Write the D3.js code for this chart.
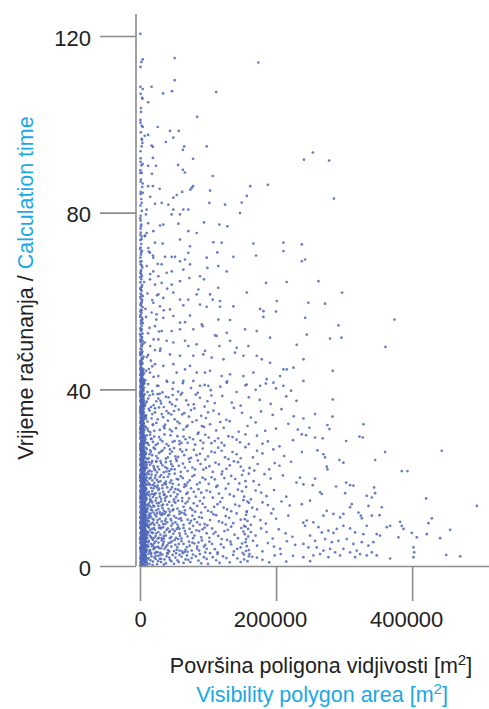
<!DOCTYPE html>
<html>
<head>
<meta charset="utf-8">
<script src="https://cdn.jsdelivr.net/npm/d3@7"></script>
<style>
    body { margin: 0; background: #fff; }
    text { font-family: "Liberation Sans", Arial, sans-serif; }
</style>
</head>
<body>
<div id="chart"></div>
<script>
// [area in thousand m2, calculation time]
var nearAxis = [
[1.2,0.4],[3.8,0.6],[6.1,0.3],[2.4,1.0],[5.2,1.1],[7.6,0.9],[0.8,1.6],[4.1,1.5],[6.8,1.7],[2.9,2.1],[5.7,2.2],[8.3,2.0],[1.5,2.7],[4.6,2.6],[7.1,2.8],[0.6,3.2],[3.3,3.3],[6.2,3.1],[2.1,3.8],[5.0,3.9],[7.9,3.7],[1.1,4.3],[4.4,4.4],[6.6,4.2],[2.7,4.9],[5.5,5.0],[8.0,4.8],[0.9,5.4],[3.6,5.5],[6.4,5.3],[1.9,6.0],[4.8,6.1],[7.3,5.9],[0.7,6.6],[3.1,6.7],[5.9,6.5],[2.3,7.1],[5.3,7.2],[7.7,7.0],[1.3,7.7],[4.2,7.8],[6.9,7.6],[2.6,8.3],[5.6,8.4],[8.2,8.2],[0.8,8.9],[3.7,9.0],[6.3,8.8],[1.8,9.4],[4.9,9.5],[7.4,9.3],[0.6,10.0],[3.2,10.1],[6.0,9.9],[2.2,10.6],[5.1,10.7],[7.8,10.5],[1.4,11.2],[4.3,11.3],[6.7,11.1],[2.8,11.8],[5.8,11.9],[8.1,11.7],[1.0,12.3],[3.5,12.4],[6.5,12.2],[2.0,12.9],[4.7,13.0],[7.2,12.8],[0.7,13.5],[3.0,13.6],[5.4,13.4],[2.5,14.1],[6.1,14.2],[7.9,14.0],[1.2,14.7],[4.0,14.8],[6.8,14.6],[2.9,15.3],[5.2,15.4],[0.8,15.9],[3.9,16.0],[7.0,15.8],[1.7,16.5],[4.5,16.6],[6.3,16.4],[0.6,17.1],[3.3,17.2],[5.7,17.0],[2.1,17.7],[4.9,17.8],[7.5,17.6],[1.1,18.3],[3.8,18.4],[6.2,18.2],[2.6,18.9],[5.5,19.0],[0.9,19.5],[4.1,19.6],[7.1,19.4],[1.6,20.1],[3.4,20.2],[6.0,20.0],[0.7,20.7],[4.6,20.8],[6.9,20.6],[2.3,21.3],[5.3,21.4],[1.2,21.9],[3.6,22.0],[6.5,21.8],[2.8,22.5],[4.8,22.6],[0.8,23.1],[3.1,23.2],[5.9,23.0],[1.9,23.7],[4.4,23.8],[7.3,23.6],[0.6,24.3],[2.7,24.4],[5.1,24.2],[1.4,24.9],[3.9,25.0],[6.4,24.8],[2.2,25.5],[4.7,25.6],[0.9,26.1],[3.3,26.2],[6.0,26.0],[1.7,26.7],[4.2,26.8],[0.7,27.3],[2.9,27.4],[5.6,27.2],[1.3,27.9],[3.7,28.0],[6.6,27.8],[2.4,28.5],[4.9,28.6],[0.8,29.1],[3.2,29.2],[5.8,29.0],[1.6,29.7],[4.3,29.8],[0.6,30.3],[2.6,30.4],[5.2,30.2],[1.9,30.9],[3.8,31.0],[6.2,30.8],[1.0,31.5],[3.0,31.6],[4.6,31.4],[2.1,32.1],[5.4,32.2],[0.7,32.7],[3.5,32.8],[1.5,33.3],[4.1,33.4],[6.1,33.2],[2.7,33.9],[0.9,34.5],[3.6,34.6],[5.0,34.4],[1.8,35.1],[4.4,35.2],[0.6,35.7],[2.9,35.8],[5.7,35.6],[1.3,36.3],[3.4,36.4],[2.2,36.9],[4.8,37.0],[0.8,37.5],[3.1,37.6],[6.0,37.4],[1.7,38.1],[4.0,38.2],[0.7,38.7],[2.5,38.8],[5.3,38.6],[1.4,39.3],[3.7,39.4],[2.0,39.9],[4.5,40.0],[0.9,40.5],[3.2,40.6],[5.9,40.4],[1.6,41.1],[4.2,41.2],[0.6,41.7],[2.8,41.8],[1.2,42.3],[3.9,42.4],[5.5,42.2],[2.3,42.9],[0.8,43.5],[3.4,43.6],[1.9,44.1],[4.7,44.2],[0.7,44.7],[2.6,44.8],
[1.3,45.4],[3.8,45.9],[0.8,46.5],[2.4,47.1],[5.2,47.4],[1.6,48.0],[3.3,48.6],[0.7,49.2],[2.9,49.7],[4.6,50.3],[1.2,50.9],[2.2,51.5],[0.9,52.1],[3.7,52.6],[1.8,53.2],[0.6,53.9],[2.7,54.4],[4.3,55.0],[1.4,55.6],[3.0,56.2],[0.8,56.8],[2.1,57.3],[1.1,58.0],[3.6,58.6],[0.7,59.2],[2.5,59.8],[1.5,60.5],[4.0,61.1],[0.9,61.7],[2.3,62.3],[1.2,63.0],[3.1,63.6],[0.6,64.2],[1.9,64.9],[2.8,65.6],[0.8,66.3],[1.6,67.0],[3.4,67.6],[1.0,68.3],[2.2,69.0],[0.7,69.8],[1.4,70.5],[2.9,71.3],[0.9,72.1],[1.8,72.9],[0.6,73.8],[2.5,74.6],[1.2,75.5],[0.8,76.4],[1.9,77.3],[1.1,78.2],
[1.0,79.3],[2.6,80.4],[0.7,81.6],[1.8,83.1],[0.9,84.2],[3.2,85.8],[1.4,87.5],[0.6,89.0],[2.1,90.7],[1.0,92.3],[0.8,93.9],[2.4,96.7],[1.2,98.2],[0.7,100.4],[1.6,102.8],[0.9,106.9]
];

var bandFill = [
[0.4,0.1],[2.6,0.7],[4.9,0.5],[7.2,0.2],[1.8,1.3],[3.5,1.2],[6.4,1.4],[8.5,1.3],[0.5,1.9],[2.2,1.8],[5.4,2.0],[7.8,1.9],[1.0,2.4],[3.9,2.3],[6.0,2.5],[8.6,2.4],[2.3,3.0],[4.7,2.9],[7.4,3.0],[1.4,3.6],[3.0,3.5],[5.8,3.6],[8.4,3.5],[0.5,4.1],[2.4,4.0],[4.9,4.1],[7.2,4.0],[1.6,4.6],[3.8,4.7],[6.0,4.6],[8.6,4.7],[0.4,5.2],[2.1,5.1],[4.6,5.2],[7.0,5.1],[1.3,5.7],[3.2,5.8],[5.5,5.7],[8.1,5.8],[0.6,6.3],[2.6,6.2],[4.5,6.3],[6.8,6.2],[1.8,6.9],[4.0,6.8],[6.3,6.9],[8.3,6.8],[0.4,7.4],[2.9,7.5],[4.8,7.4],[7.0,7.5],[1.7,8.0],[3.6,8.0],[6.1,8.1],[0.5,8.6],[2.2,8.6],[4.4,8.7],[7.3,8.6],[1.3,9.1],[3.1,9.2],[5.7,9.1],[8.4,9.2],[0.4,9.7],[2.5,9.8],[4.5,9.7],[6.9,9.8],[1.7,10.3],[3.9,10.4],[6.4,10.3],[8.6,10.4],[0.6,10.9],[2.9,10.9],[5.5,11.0],[7.4,10.9],[1.9,11.5],[4.0,11.5],[6.2,11.6],[0.4,12.0],[2.5,12.1],[4.8,12.0],[7.5,12.1],[1.6,12.6],[3.4,12.7],[5.9,12.6],[8.3,12.7],[0.5,13.2],[2.3,13.2],[4.4,13.3],[6.7,13.2],[1.5,13.8],[3.7,13.9],[5.8,13.8],[0.4,14.4],[3.2,14.4],[4.9,14.5],[7.3,14.4],[1.9,15.0],[3.8,15.0],[6.3,15.1],[0.6,15.6],[2.4,15.6],[5.6,15.7],[8.1,15.6],[1.3,16.2],[3.1,16.2],[5.3,16.3],[7.6,16.2],[0.4,16.8],[2.6,16.8],[4.6,16.9],[6.8,16.8],[1.5,17.4],[3.9,17.4],[6.1,17.5],[0.5,18.0],[2.3,18.0],[5.0,18.1],[7.2,18.0],[1.8,18.6],[4.4,18.6],[6.7,18.7],[0.6,19.2],[3.0,19.2],[5.9,19.3],[1.4,19.8],[2.5,19.8],[4.9,19.9],[7.6,19.8],[0.4,20.4],[2.2,20.4],[5.2,20.5],[1.3,21.0],[3.6,21.0],[6.2,21.1],[0.5,21.6],[2.8,21.6],[4.4,21.7],[7.2,21.6],[1.7,22.2],[3.9,22.2],[5.7,22.3],[0.4,22.8],[2.1,22.8],[4.9,22.9],[1.2,23.4],[3.5,23.4],[6.1,23.5],[0.5,24.0],[2.3,24.0],[4.7,24.1],[1.9,24.6],[3.4,24.6],[5.8,24.7],[0.4,25.2],[2.8,25.2],[4.3,25.3],[1.5,25.8],[3.6,25.8],[6.4,25.9],[0.6,26.4],[2.4,26.4],[5.1,26.5],[1.1,27.0],[3.9,27.0],[4.8,27.1],[0.4,27.6],[2.0,27.6],[5.7,27.7],[1.8,28.2],[3.2,28.2],[6.0,28.3],[0.5,28.8],[2.6,28.8],[4.4,28.9],[1.3,29.4],[3.7,29.4],[5.3,29.5],[0.4,30.0],[2.1,30.0],[4.8,30.1],[1.5,30.6],[3.3,30.6],[5.9,30.7],[0.6,31.2],[2.5,31.2],[4.2,31.3],[1.3,31.8],[3.8,31.8],[0.4,32.4],[2.8,32.4],[5.0,32.5],[1.7,33.0],[3.1,33.0],[4.6,33.1],[0.5,33.6],[2.3,33.6],[5.5,33.7],[1.2,34.2],[3.9,34.2],[0.4,34.8],[2.0,34.8],[4.5,34.9],[1.5,35.4],[3.4,35.4],[0.6,36.0],[2.6,36.0],[5.1,36.1],[1.8,36.6],[4.0,36.6],[0.4,37.2],[2.3,37.2],[4.6,37.3],[1.2,37.8],[3.5,37.8],[0.5,38.4],[2.0,38.4],[4.3,38.5],[1.6,39.0],[3.0,39.0],[0.4,39.6],[2.7,39.6],[5.0,39.7],[1.3,40.2],[3.6,40.2],[0.6,40.8],[2.2,40.8],[4.0,40.9],[1.8,41.4],[3.3,41.4],[0.4,42.0],[2.5,42.0],[4.6,42.1],[1.4,42.6],[3.0,42.6],[0.5,43.2],[2.1,43.2],[4.2,43.3],[1.6,43.8],[2.8,43.8],[0.4,44.4],[3.7,44.4],[1.2,45.0],[2.3,45.6],[0.6,46.2],[3.1,46.8],[1.1,47.7],[0.4,48.4],[2.0,49.0],[1.4,50.6],[0.5,51.2],[2.9,51.8],[1.0,53.5],[2.2,55.3],[0.5,57.6],[1.7,59.5],[0.8,62.8],[2.0,66.0]
];

var bandEdge = [
[8.8,0.8],[8.9,3.2],[8.7,5.5],[8.8,7.9],[8.9,10.1],[8.7,12.4],[8.8,14.9],[8.9,17.3],[8.7,19.6],[8.6,22.1],[8.4,24.4],[8.2,26.8],[7.9,29.2],[7.6,31.6],[7.3,34.0],[7.0,36.4],[6.7,38.9],[6.4,41.3],[6.1,43.6],
[9.4,1.9],[9.6,4.4],[9.3,6.8],[9.5,9.1],[9.2,11.4],[9.6,13.7],[9.3,16.1],[9.1,18.5],[9.4,20.9],[9.0,23.3],[8.8,25.6],
[1.9,0.1],[3.0,0.3],[0.3,0.9],[3.4,1.8],[7.0,2.3],[5.0,2.8],[0.2,3.9],[2.9,4.1],[5.9,4.5],[7.8,5.6],[0.2,6.1],[4.0,6.5],[5.9,7.8],[1.6,8.5],[7.5,9.7],[3.0,10.5],[0.2,11.0],[5.2,11.6],[3.3,12.0],[7.0,13.6],[2.8,14.5],[0.3,15.3],[5.4,16.0],[7.2,17.0],[2.0,18.6],[4.2,19.3],[0.2,20.0],[5.7,20.9],[3.5,21.6],[7.0,22.3],[1.6,22.9],[4.9,24.5],[2.6,25.9],[6.9,25.4],[0.2,26.7],[4.5,27.5],[2.5,29.9],[6.3,29.5],[0.2,31.0],[4.6,32.0],[2.6,33.0],[5.6,34.8],[0.2,35.3],[3.9,36.0],[1.9,37.4],[5.4,37.9],[0.2,39.1],[3.4,39.9],[5.9,41.8],[1.5,42.0],[3.5,43.0],[5.1,44.6],[0.3,45.8],[2.4,46.3],[4.1,47.0],[0.3,47.9],[3.0,48.2],[1.9,50.0],[3.9,51.0],[0.3,52.5],[2.6,53.6],[1.2,54.9],[3.5,55.8],[0.3,56.4],[2.5,57.9],[1.4,59.0],[3.2,60.2],[0.3,60.9],[2.0,61.4],[1.1,62.6],[2.6,63.2],[0.4,65.4],[1.3,66.7],[2.6,68.0],[0.4,68.9],[1.7,71.0],[0.4,71.7],[2.0,74.0],[0.5,75.0],[1.5,76.9],[0.4,78.7]
];

var denseCore = [
[12,41.2],[18,39.6],[25,40.8],[33,39.3],[40,41.7],[48,40.1],[56,39.5],[63,41.4],[75,40.3],[85,39.2],[95,41.0],[104,39.8],[118,40.6],[128,41.8],[142,39.4],[155,40.9],[170,39.9],[185,41.3],[200,40.2],[222,39.7],
[10,37.2],[14,38.6],[20,36.4],[27,37.9],[31,36.8],[38,38.3],[44,37.1],[52,36.2],[60,38.8],[68,37.5],[79,36.6],[88,38.1],[99,37.3],[110,36.9],[121,38.5],[135,37.0],[148,36.3],[160,38.2],[176,37.6],[192,36.7],[215,38.4],[230,37.4],
[9,34.1],[13,35.6],[17,33.4],[22,34.8],[28,35.9],[34,33.7],[39,35.1],[46,34.3],[51,33.2],[57,35.4],[65,34.6],[72,33.8],[80,35.7],[90,34.0],[97,33.5],[108,35.2],[116,34.4],[127,33.1],[138,35.8],[150,34.7],[163,33.6],[178,35.0],[195,34.2],[208,35.5],[226,33.9],
[8,31.4],[11,32.7],[15,30.3],[19,31.9],[24,32.4],[29,30.8],[35,31.6],[41,32.9],[47,30.5],[53,31.2],[58,32.3],[64,30.9],[70,31.8],[77,32.6],[86,30.2],[94,31.5],[103,32.1],[112,30.7],[123,31.3],[132,32.8],[145,30.4],[158,31.7],[170,32.5],[184,30.6],[200,31.1],[218,32.2],[232,30.9],
[7,28.3],[10,29.6],[13,27.4],[17,28.8],[21,29.3],[26,27.7],[30,28.6],[36,29.8],[42,27.2],[48,28.1],[55,29.4],[61,27.9],[67,28.7],[73,29.1],[81,27.5],[89,28.4],[96,29.7],[105,27.8],[115,28.9],[124,27.3],[136,29.2],[147,28.0],[160,27.6],[172,29.5],[188,28.2],[205,27.1],[225,28.5],
[7,25.2],[10,26.5],[13,24.4],[16,25.8],[20,26.8],[24,24.9],[28,25.6],[33,26.2],[38,24.3],[44,25.4],[50,26.7],[56,24.7],[62,25.9],[68,26.3],[75,24.5],[83,25.1],[92,26.6],[100,24.8],[110,25.7],[120,26.1],[130,24.2],[142,25.3],[155,26.9],[166,24.6],[180,25.5],[196,26.4],[212,24.9],[238,25.8],
[6,22.4],[9,23.6],[12,21.3],[15,22.9],[18,23.8],[22,21.7],[26,22.5],[31,23.3],[35,21.2],[40,22.1],[45,23.7],[51,21.9],[57,22.7],[63,23.2],[70,21.5],[77,22.3],[85,23.9],[93,21.8],[102,22.6],[111,23.4],[121,21.4],[132,22.8],[144,23.5],[152,21.6],[161,22.2],[173,23.1],[190,21.9],[205,22.7],[222,23.6],
[6,19.3],[8,20.5],[11,18.4],[14,19.8],[17,20.7],[21,18.8],[25,19.5],[29,20.2],[33,18.3],[38,19.1],[43,20.8],[48,18.6],[54,19.7],[60,20.3],[66,18.5],[73,19.4],[80,20.6],[88,18.9],[96,19.6],[105,20.1],[114,18.2],[124,19.9],[134,20.4],[146,18.7],[155,19.2],[160,20.9],[175,18.4],[192,19.8],[210,20.5],[230,18.9],
[6,16.2],[8,17.4],[10,15.3],[13,16.8],[16,17.7],[19,15.6],[23,16.5],[27,17.2],[31,15.2],[35,16.1],[40,17.8],[45,15.9],[50,16.7],[56,17.3],[62,15.4],[68,16.3],[75,17.6],[82,15.7],[90,16.6],[98,17.1],[107,15.5],[116,16.4],[126,17.5],[138,15.8],[150,16.9],[156,17.9],[163,15.1],[178,16.6],[197,17.2],[215,15.7],
[5,13.3],[7,14.5],[9,12.4],[12,13.8],[15,14.7],[18,12.6],[21,13.5],[25,14.2],[29,12.2],[33,13.1],[37,14.8],[42,12.9],[47,13.7],[52,14.3],[58,12.4],[64,13.4],[70,14.6],[77,12.7],[84,13.6],[92,14.1],[100,12.5],[109,13.4],[118,14.5],[128,12.8],[140,13.9],[152,14.9],[157,12.3],[165,13.2],[180,14.4],[196,12.9],[220,13.7],
[5,10.2],[7,11.4],[9,9.3],[11,10.8],[14,11.7],[17,9.6],[20,10.5],[24,11.2],[28,9.2],[32,10.1],[36,11.8],[40,9.9],[45,10.7],[50,11.3],[55,9.4],[61,10.3],[67,11.6],[73,9.7],[80,10.6],[87,11.1],[95,9.5],[103,10.4],[112,11.5],[121,9.8],[131,10.9],[142,11.9],[153,9.1],[158,10.2],[168,11.2],[185,9.6],[200,10.7],[218,11.4],[240,9.8],
[5,7.3],[7,8.5],[9,6.4],[11,7.8],[13,8.7],[16,6.6],[19,7.5],[22,8.2],[26,6.2],[30,7.1],[34,8.8],[38,6.9],[43,7.7],[48,8.3],[53,6.4],[58,7.4],[64,8.6],[70,6.7],[76,7.6],[83,8.1],[90,6.5],[98,7.4],[106,8.5],[115,6.8],[124,7.9],[134,8.9],[144,6.3],[154,7.2],[159,8.4],[170,6.9],[186,7.7],[204,8.3],[224,6.6],
[5,4.2],[7,5.4],[9,3.3],[11,4.8],[13,5.7],[15,3.6],[18,4.5],[21,5.2],[24,3.2],[28,4.1],[32,5.8],[36,3.9],[40,4.7],[45,5.3],[50,3.4],[55,4.3],[61,5.6],[67,3.7],[73,4.6],[80,5.1],[87,3.5],[94,4.4],[102,5.5],[110,3.8],[119,4.9],[128,5.9],[138,3.3],[148,4.2],[155,5.4],[160,3.6],[172,4.6],[188,5.2],[206,3.9],[228,4.8],
[6,1.2],[8,2.4],[10,0.8],[13,1.8],[16,2.7],[19,1.0],[23,1.6],[27,2.3],[31,0.9],[36,1.5],[41,2.8],[46,1.1],[52,1.9],[58,2.5],[64,0.7],[71,1.4],[78,2.6],[86,1.2],[94,2.0],[103,2.9],[112,1.3],[122,2.2],[132,0.8],[143,1.7],[153,2.6],[158,1.1],[165,2.1],[180,1.4],[198,2.4],[215,1.0],
[4,2.1],[6,3.8],[8,5.6],[10,7.2],[12,9.1],[14,10.9],[16,12.7],[18,14.4],[20,16.3],[22,18.1],[5,19.6],[7,17.5],[9,15.2],[11,13.1],[13,11.3],[15,9.4],[17,7.6],[19,5.9],[21,4.1],[23,2.3],[26,3.1],[28,6.4],[30,8.7],[32,11.5],[34,13.9],[36,16.2],[38,18.5],[40,2.9],[42,5.2],[44,7.9],[46,10.3],[48,12.6],[50,15.1],[52,17.4],[54,3.7],[56,6.1],[58,8.4],[60,10.8],[25,9.8],[27,12.9],[29,15.7],[31,1.6],[33,4.6],[35,6.8],[37,9.5],[39,21.4],[24,23.6],[14,25.3],[8,22.7],[10,27.9],[12,30.6],[6,26.1],[9,33.4],[16,28.8],[19,32.1],[7,36.2],[11,39.4],[13,44.6],[8,42.1],[10,47.3],[15,49.8],[12,52.7],[9,56.4],[18,45.2],[22,35.7],[26,38.9],[20,42.8],
[150,5.1],[152,7.8],[154,10.6],[156,3.4],[157,12.3],[159,6.7],[160,2.2],[155,8.9],[158,14.6],[153,1.5],[46,21.9],[66,3.2],[72,5.5],[78,9.1],[84,3.9],[90,12.1],[62,14.7],[68,18.2],[96,4.8],[108,7.3],[114,2.7],[126,9.4],[134,4.9],[44,26.4],[52,24.8],[58,28.3],[36,31.2],[42,34.6],[30,37.4],[48,38.7],
[6,41.5],[9,44.2],[12,47.8],[7,50.6],[14,53.9],[8,58.2],[11,61.7],[6,64.3],[10,67.9],[13,71.2],[7,74.8],[16,46.5],[20,51.3],[24,55.8],[18,60.2],[22,48.9],[28,53.1],[17,57.4],[25,61.3],[15,66.1],[19,70.3],[12,77.6],[30,49.2],[35,57.9],[40,62.8],[26,68.4]
];

var lowerCluster = [
[3.5,0.6],[5,2.0],[11,1.5],[14,0.5],[17,2.2],[21,1.9],[25,0.4],[29,1.6],[33,2.6],[38,0.6],[43,1.9],[48,2.5],[50,0.5],[55,1.3],[61,2.1],[67,1.5],[74,0.9],[82,2.2],[90,0.6],[98,1.6],[107,2.0],[117,0.7],[127,1.8],[137,2.5],[148,0.9],[161,2.7],[172,1.9],[190,0.8],[207,2.7],[250,1.1],[225,2.3],
[3.5,3.9],[6,5.1],[8,3.1],[10,4.4],[12,5.4],[14,3.3],[16,5.0],[20,3.8],[23,5.6],[26,4.4],[30,3.0],[34,5.0],[38,4.3],[43,3.3],[47,5.6],[52,4.8],[58,3.5],[64,5.0],[70,3.2],[77,5.3],[84,4.4],[91,5.8],[98,3.9],[106,5.0],[114,3.1],[123,4.2],[133,5.5],[143,3.9],[151,3.0],[157,4.5],[166,5.7],[180,3.3],[197,4.4],[216,5.6],
[3.5,7.0],[6,8.1],[8,6.1],[10,7.5],[12,8.9],[14,6.9],[18,8.4],[21,6.4],[24,7.4],[28,8.6],[32,6.3],[36,7.6],[41,8.5],[46,6.6],[51,7.9],[56,8.8],[61,6.2],[67,7.3],[73,8.4],[80,6.9],[87,7.9],[95,8.7],[102,6.4],[111,7.7],[120,6.1],[129,8.2],[139,7.1],[149,8.6],[156,6.1],[163,7.7],[178,8.5],[195,6.2],[214,7.4],
[3.5,10.6],[6,9.6],[8,11.1],[10,9.2],[12,10.3],[16,11.2],[19,9.8],[22,11.6],[26,10.4],[30,11.8],[34,9.5],[38,10.7],[43,11.6],[48,9.6],[53,10.9],[58,11.8],[64,9.3],[70,10.5],[77,11.4],[84,9.9],[91,10.9],[99,9.2],[108,11.7],[116,10.1],[126,11.3],[137,9.7],[148,10.5],[156,11.6],[163,9.3],[177,10.4],[193,11.9],
[3.5,12.7],[6,14.0],[8,13.0],[11,12.2],[13,14.2],[17,13.3],[20,12.1],[23,14.8],[27,13.6],[31,14.6],[35,12.5],[40,13.9],[44,12.3],[50,14.6],[55,13.0],[61,12.1],[67,14.2],[74,13.1],[81,12.3],[88,14.7],[96,13.3],[105,12.2],[114,14.0],[123,13.2],[134,12.4],[146,13.6],[160,14.3],[172,12.8],[188,13.8],[208,14.6],
[3.5,15.6],[5,17.2],[7,15.9],[9,17.6],[12,16.2],[15,15.2],[18,17.0],[21,16.1],[25,17.8],[29,16.4],[33,17.6],[37,15.4],[42,16.8],[47,17.8],[53,15.6],[59,16.9],[65,17.9],[72,15.3],[79,16.8],[86,17.4],[94,15.5],[103,16.8],[112,17.9],[121,15.4],[132,16.2],[144,17.3],[153,15.7],[170,17.1],[186,15.8],
[3.5,18.6],[5,20.2],[7,18.9],[10,20.1],[13,18.7],[16,20.0],[19,18.3],[23,20.5],[27,19.0],[31,20.6],[36,18.7],[41,20.2],[46,19.4],[51,20.9],[57,18.4],[63,19.9],[70,18.9],[77,20.3],[84,18.5],[92,20.0],[101,18.6],[110,19.6],[120,20.8],[130,18.6],[140,19.7],[150,20.6],[167,19.2],[183,20.8],
[3.5,21.6],[5,23.2],[7,22.0],[10,22.9],[13,23.5],[17,21.4],[20,22.6],[24,23.7],[28,21.9],[33,22.8],[38,23.5],[43,21.5],[48,22.6],[54,23.8],[60,21.3],[66,22.3],[73,23.6],[81,21.9],[89,23.1],[97,22.2],[107,21.3],[116,23.0],[127,22.0],[138,23.7],[148,22.5],[168,21.6],[198,23.3],
[3.5,24.7],[5,26.3],[8,25.3],[11,24.2],[15,26.2],[18,25.1],[22,26.5],[26,24.4],[31,25.9],[36,26.7],[41,24.6],[47,25.9],[53,24.2],[59,26.4],[65,25.1],[72,24.3],[79,26.3],[88,25.4],[96,24.1],[105,25.9],[115,26.8],[125,24.6],[136,25.8],[148,24.4],[172,26.1],
[3.5,27.7],[5,29.3],[8,28.7],[11,27.8],[15,29.7],[19,28.1],[23,27.4],[28,29.2],[33,28.2],[39,27.6],[45,29.6],[51,28.3],[58,27.6],[64,29.3],[70,27.9],[78,28.7],[85,29.9],[93,27.9],[101,29.1],[110,28.3],[120,27.9],[130,29.4],[142,28.6],[155,29.8],[180,27.7],
[3.5,30.9],[5,32.3],[8,33.8],[11,31.1],[14,35.2],[18,34.4],[21,30.6],[26,33.2],[32,34.4],[37,32.0],[44,30.9],[50,35.1],[55,32.7],[62,34.3],[68,31.5],[75,35.3],[83,33.0],[91,31.7],[100,34.8],[118,32.6],[3.5,36.6],[5,38.6],[8,36.8],[12,37.9],[16,36.0],[19,38.9],[24,37.3],[29,39.0],[35,36.0],[42,38.2],[47,36.6],[54,37.7],[62,39.2],[71,36.5],[82,38.8],[95,36.1],[105,38.6]
];

var coreFill = [
[10.5,0.3],[12.5,2.8],[15.5,1.3],[18.5,0.2],[22,2.9],[26.5,1.1],[30,2.5],[35,0.3],[39,2.2],[44,1.4],[53,2.9],[57,0.9],[63,2.9],[69,2.4],[76,1.8],[88,2.7],[100,0.5],
[10.5,3.7],[12.5,4.4],[16.5,3.0],[19,4.8],[22.5,4.2],[27,5.3],[31,4.0],[35,5.5],[41,3.6],[46,4.4],[51,5.9],[57,5.0],[62,3.3],[69,4.3],[76,3.5],[86,5.3],[96,3.1],
[10.5,6.3],[12.5,7.6],[15,8.2],[17.5,6.3],[20.5,8.6],[23,6.8],[27,7.7],[31,8.5],[35,6.2],[39,8.2],[44,6.3],[49,7.3],[54,8.4],[59,6.8],[66,7.9],[78,6.3],[92,8.3],
[10.5,9.6],[13,10.1],[15.5,11.9],[18.5,10.7],[21,9.3],[25,11.9],[29,10.7],[33,11.9],[37,10.2],[41,11.4],[46,9.1],[52,9.9],[57,10.7],[65,11.9],[75,10.2],[88,9.4],
[10.5,12.8],[14,13.6],[16.5,14.8],[19.5,13.7],[24,12.6],[28,14.3],[32,13.7],[38,12.2],[43,14.5],[49,12.8],[56,14.8],[66,12.6],[79,14.2],
[10.5,16.6],[14,15.9],[17,16.3],[20,17.6],[24,15.4],[28,17.5],[34,16.8],[39,15.7],[45,17.3],[55,16.2],[70,16.6],
[10.5,19.2],[12.5,20.8],[15,18.4],[18,19.4],[22,19.9],[26,18.2],[30,19.2],[35,20.1],[44,18.9],[56,19.6],
[10.5,22.3],[14,21.6],[17,23.4],[21,22.1],[25,21.2],[30,23.8],[37,22.4],[46,23.1]
];

var midSpread = [
[2.5,82.2],[22,82],[31.9,82.2],[41.7,81.8],[49,80.7],[46.6,79.6],[58.8,79.6],[63.7,80.7],[71,80.7],[102,82.2],[125,81.8],[149.5,82.3],[147,79.9],[9.8,80.7],[8.8,79.6],
[34.3,77.3],[29.4,77.1],[56.4,77.5],[71,75.8],[83.3,75.4],[94,77.8],[116.7,77.3],[128.4,76.9],[58.8,73.9],[9.8,75.4],[19.6,75.8],[7.4,74.7],[22,73.2],[33.3,73],[107.8,73.3],[120,73.2],[166.7,73],[210.8,73.2],[237.8,72.8],
[73.5,72.4],[71,70.9],[113.7,71],[137.3,70],[170.6,70.3],[210.8,71.3],[237.8,69],[242.7,69.4],[36.8,70],[46.6,70],[51.5,70],[58.8,69],[66.2,69.4],[31.9,68.3],[14.7,70.9],[19.6,69.8],[12.3,72],[98,69.8],[99,67.5],
[39.2,66.4],[46.6,66.7],[73.5,68.3],[63.7,67.1],[72.5,65.2],[88.2,65.6],[94.1,64.9],[115,67.9],[127.5,66.7],[58.8,64.5],[27,65.6],[22,63.7],[31.9,64.1],[46.6,63.7],[115,63],[156.9,61.9],[185.3,64.1],[215.7,64.3],[14.7,64.9],[19.6,66.7],
[27,61.5],[34.3,60.7],[49,61.9],[58.8,60.3],[71,60.3],[83.3,61.5],[85.8,62.6],[103,61.5],[106.9,60.3],[117.7,60],[88.2,59.2],[98,58.7],[117.7,58.7],[137.3,58.8],[176.5,58.2],[181.4,57.7],[201,60],[200,57.6],[247.5,59.6],[19.6,59.6],[29.4,58.8],[44.1,58.1],[63.7,59],
[24.5,57],[34.3,56.2],[49,56.6],[58.8,55.1],[66.2,55.2],[73.5,56.7],[90.7,54.7],[92.2,54.3],[115.2,55.8],[132.4,55.7],[154.4,53.6],[127.5,52.8],[171.6,53.2],[181.4,56.4],[191.2,51.7],[242.7,56.2],[245.1,52.4],[22,54.3],[31.9,53.2],[46.6,53.2],[58.8,53.6],[78.4,53.6],
[27,51.3],[39.2,51],[49,50.6],[66.2,51],[71.1,49.8],[83.3,50.2],[95.6,48.7],[110.3,52.2],[112.7,52.1],[116.7,49.8],[132.4,51],[142.2,49.4],[159.3,49.8],[171.6,47.6],[179,46.8],[191.2,46],[215.7,44.5],[230.4,50.1],[240.2,46.8],[29.4,48.7],[44.1,47.9],[58.8,47.6],[78.4,47.6],[93.1,47.9],[105.4,47.2],[122.6,46.8],[139.7,48.3],[152,47.6],
[22,45.7],[34.3,45.3],[49,45.7],[53.9,43.8],[66.2,44.5],[73.5,45.3],[83.3,43.8],[95.6,43.8],[103,44.2],[120.1,43],[132.4,43.4],[152,43],[166.7,43.8],[186.3,42.3],[205.9,43],[210.8,44.5],[225.5,44.9],[240.2,41.9],[14.7,43.8],[27,43],[39.2,41.9],[49,41.5],[63.7,41.9],[78.4,41.9],[88.2,40.8],[100.5,40.8],[127.5,41.5],[156.9,41.1],[176.5,40.8],[196.1,41.5],[210.8,40.8],[27,40.8]
];

var upperSparse = [
[0.5,120.5],[4,114.7],[2,114.1],[51,115],[0.8,113],[174,114],[51,110],[0.7,108.5],[4,108],[17,108.5],[34,107],[47,107.5],[112,107.3],[3,106],[3.5,105.8],[12,105],[1.5,103.7],[84,101.7],[0.6,101],[2.5,99.7],[4,99.4],[26,99.4],[44,98.5],[57,98.5],[12,97.6],[7,97.4],[38,96],[49,97],[3,96.5],[3.5,95.8],[17,95.2],[19,94.9],[2.5,95],[65,95],[63,94.2],[98,95],[19,92.4],[78,92.2],[241,92],[0.9,91.5],[4,91],[23.5,90.6],[12,90.6],[56,90.8],[63,89.7],[66,89.1],[2.5,89],[0.6,89.6],[17.6,88.8],[107,88.3],[1,87],[4,86.6],[12,86],[19,86],[29,85.4],[78,86],[76,85.6],[74,85.2],[62,84.7],[103,85],[162,86],[188,86.3],[1,84.7],[4,84.5],[15,83.6],[54,84],[49,83.4],[157,83.8],
[254,93.6],[278,91.8],[285,83.2]
];

var rightTail = [
[262.3,64.5],[297,61.9],[272,59.4],[291.7,54.5],[374,55.8],[279.4,51.5],[296.1,51.7],[360.8,49.6],[283.3,44.2],
[283.3,37.7],[257.4,34.4],[240.2,33.4],[282.9,33.8],[275.5,31.9],[328.4,32.1],[249,31.3],[278.4,31],[237.8,29.8],[244.1,29.6],[257.4,29.1],[268.6,28.9],[303,28.3],[322.6,29.3],[327.5,29.1],[360.3,25.8],[443.6,26.1],[260.8,26.2],[269.6,25.3],[272.1,24.6],[293.1,24],[299,23.4],[345.6,24],[274.5,22.5],[275.5,21.9],[384.8,21.5],[393.1,21.5],
[257.4,19.8],[235.3,20],[240.2,18.5],[253.9,18.3],[264.7,16.7],[267.2,16.3],[288.2,18],[303,18.9],[308.8,18.3],[313.7,18.2],[301.5,16.5],[344.1,17.8],[345.6,16.5],[333.3,15.9],[340.7,15.5],[420.6,15.3],[495.1,13.6],[250,14.8],[237.8,14],[311.3,14],[308.8,13.3],[335.8,13.6],[355.4,13.3],
[274.5,12.5],[269.6,11.4],[284.3,11.8],[294.1,11],[299,11.8],[321.1,12.1],[324.5,11.4],[326,10.8],[340.7,11.4],[352,11.5],[362.8,8.8],[367.7,9.1],[382.4,10],[384.8,9.1],[387.3,8.4],[424,9.7],[429,10.8],[455.9,8.2],[399.5,7.5],[406.9,6.5],[421.6,7.2],[441.2,6.3],[379.9,6.5],
[245.1,10.3],[242.7,9.1],[254.9,9.9],[262.3,8.8],[267.2,7.6],[277,8],[284.3,7.5],[289.2,8.4],[299,9.1],[308.8,8.5],[316.2,7.6],[328.4,7.2],[333.3,9.1],[348,7.2],[250,6.9],[257.4,5.7],[272.1,6.1],[281.9,5.4],[291.7,5.7],[303.9,6.1],[313.7,5],[326,5.4],[335.8,4.6],[343.1,5.4],[352.9,6.9],
[240.2,5],[247.6,4.2],[259.8,4.2],[269.6,3.5],[279.4,3.9],[286.8,3.1],[299,3.9],[308.8,3.1],[318.6,3.5],[323.5,2.7],[340.7,3.1],[348,2.4],[367.7,1.7],[402,4.2],[403,3.1],[402,2],[450,2.5],[470.6,2.2],[240.2,2],[254.9,2.4],[264.7,2.7],[277,2],[294.1,2.4],[316.2,2],[333.3,2.4]
];

var yTicks = [0, 40, 80, 120];
var xTicks = [0, 200000, 400000];

function init() {
    var w = 489;
    var h = 709;
    var cyan = "#1aa8e6";
    var axisGrey = "#8c8c8c";

    var points = nearAxis.concat(bandFill, bandEdge, denseCore, lowerCluster, coreFill, midSpread, upperSparse, rightTail);

    var svg = d3.select("#chart")
                .append("svg")
                .attr("width", w)
                .attr("height", h);

    var x = d3.scaleLinear().domain([0, 513000]).range([140, 489]);
    var y = d3.scaleLinear().domain([0, 120]).range([566, 36]);

    // points
    svg.append("g")
        .selectAll("circle")
        .data(points)
        .enter()
        .append("circle")
        .attr("cx", function(d){ return x(d[0] * 1000); })
        .attr("cy", function(d){ return y(d[1]); })
        .attr("r", 1.35)
        .attr("fill", "#4e66b8")
        .attr("fill-opacity", 0.85);

    // y axis
    var yAxis = svg.append("g")
        .attr("transform", "translate(136,0)")
        .call(d3.axisLeft(y).tickValues(yTicks).tickSize(36).tickSizeOuter(0).tickPadding(9));
    yAxis.select(".domain").remove();
    yAxis.append("line")
        .attr("x1", 0).attr("x2", 0)
        .attr("y1", y(0)).attr("y2", y(125))
        .attr("stroke", axisGrey)
        .attr("stroke-width", 1.6);

    // x axis
    var xAxis = svg.append("g")
        .attr("transform", "translate(0,566)")
        .call(d3.axisBottom(x).tickValues(xTicks).tickFormat(d3.format("d")).tickSize(35).tickSizeOuter(0).tickPadding(10));

    svg.selectAll(".tick line, .domain")
        .attr("stroke", axisGrey)
        .attr("stroke-width", 1.6);
    svg.selectAll(".tick text")
        .attr("font-size", "22px")
        .attr("font-family", "Liberation Sans, Arial, sans-serif")
        .attr("fill", "#222");
    yAxis.selectAll(".tick text").attr("dy", "0.42em");
    xAxis.selectAll(".tick text")
        .attr("dy", "0.71em")
        .attr("dx", function(d){ return d === 0 ? 0 : -6; });

    // x title
    var t1 = svg.append("text")
        .attr("x", 321).attr("y", 673)
        .attr("text-anchor", "middle")
        .attr("font-size", "21.5px")
        .attr("fill", "#222");
    t1.append("tspan").text("Površina poligona vidjivosti [m");
    t1.append("tspan").attr("font-size", "15px").attr("dy", -8).text("2");
    t1.append("tspan").attr("dy", 8).text("]");

    var t2 = svg.append("text")
        .attr("x", 322).attr("y", 702)
        .attr("text-anchor", "middle")
        .attr("font-size", "21.5px")
        .attr("fill", cyan);
    t2.append("tspan").text("Visibility polygon area [m");
    t2.append("tspan").attr("font-size", "15px").attr("dy", -8).text("2");
    t2.append("tspan").attr("dy", 8).text("]");

    // y title
    var yt = svg.append("text")
        .attr("transform", "translate(33,288) rotate(-90)")
        .attr("text-anchor", "middle")
        .attr("font-size", "21.5px")
        .attr("fill", "#222");
    yt.append("tspan").text("Vrijeme računanja / ");
    yt.append("tspan").attr("fill", cyan).text("Calculation time");
}
window.onload = init;
</script>
</body>
</html>
